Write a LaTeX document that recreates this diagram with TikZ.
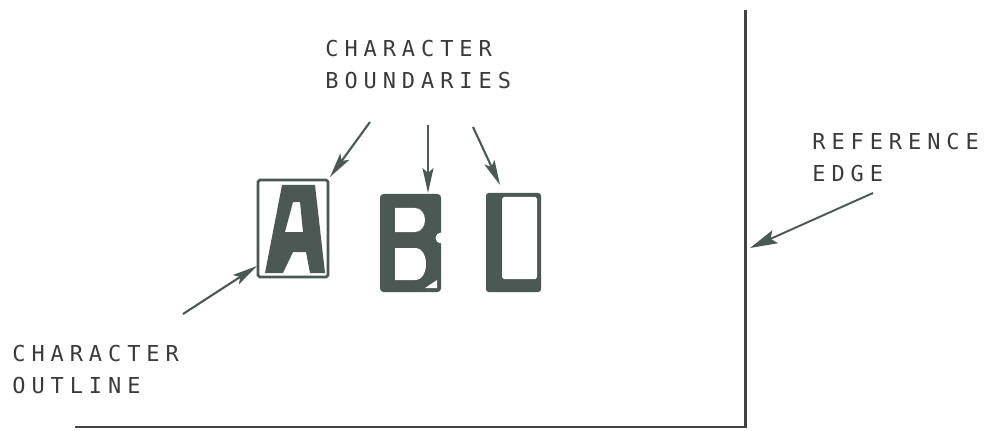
\documentclass[tikz,border=0pt]{standalone}
\usepackage{fontspec}
\usetikzlibrary{arrows.meta}
\newfontfamily\leroy{DejaVu Sans Mono}[LetterSpace=27]
\definecolor{cink}{HTML}{4B5853}
\definecolor{cline}{HTML}{3F4442}
\definecolor{ctext}{HTML}{383B3A}
\tikzset{
  lbl/.style={font=\leroy\fontsize{12.5}{18.2}\selectfont, text=ctext, align=left, inner sep=0pt, anchor=north west},
  pointer/.style={-{Stealth[length=5mm, width=2.2mm, inset=1mm]}, cink, line width=1.2pt},
  bigpointer/.style={-{Stealth[length=5.5mm, width=2.8mm, inset=1mm]}, cink, line width=1.1pt},
}

\begin{document}
\begin{tikzpicture}
\useasboundingbox (0,0) rectangle (19.7,8.6);
% reference edge
\draw[cline, line width=1.7pt] (1.5,0.06) -- (14.9,0.06) -- (14.9,8.4);
% letter A in its outline
\draw[cink, line width=1.6pt, rounded corners=1pt] (5.16,5.0) rectangle (6.56,3.06);
\fill[cink, even odd rule] (5.3,3.14) -- (5.64,4.9) -- (6.3,4.9) -- (6.5,3.14) -- (6.2,3.14) -- (6.12,3.56) -- (5.86,3.56) -- (5.66,3.14) -- cycle
  (5.7,3.96) -- (5.86,4.56) -- (6.0,4.56) -- (6.06,3.96) -- cycle;
% letter B
\fill[cink, rounded corners=2pt] (7.6,4.72) rectangle (8.82,2.76);
\fill[white] (7.9,3.96) -- (7.9,4.44) -- (8.3,4.44) to[out=0, in=90] (8.5,4.2) to[out=-90, in=0] (8.3,3.96) -- cycle;
\fill[white] (7.9,3.0) -- (7.9,3.64) -- (8.3,3.64) to[out=0, in=90] (8.52,3.32) to[out=-90, in=0] (8.3,3.0) -- cycle;
\fill[white] (8.82,3.84) circle (0.11);
\fill[white] (8.5,2.84) -- (8.74,2.84) -- (8.74,3.0) -- cycle;
% letter L
\fill[cink, rounded corners=1.5pt] (9.72,4.74) rectangle (10.82,2.76);
\fill[white, rounded corners=1pt] (10.04,4.66) rectangle (10.74,3.02);
% labels
\node[lbl] (bound) at (6.5,7.8) {CHARACTER\\BOUNDARIES};
\node[lbl] (outl) at (0.24,1.7) {CHARACTER\\OUTLINE};
\node[lbl] (refedge) at (16.24,5.94) {REFERENCE\\EDGE};
% arrow ends
\coordinate (bA) at (7.4,6.16);
\coordinate (bB) at (8.56,6.1);
\coordinate (bL) at (9.46,6.06);
\coordinate (tA) at (6.6,5.06);
\coordinate (tB) at (8.56,4.74);
\coordinate (tL) at (10.0,4.9);
\coordinate (oA) at (3.66,2.32);
\coordinate (tO) at (5.14,3.28);
\coordinate (rE) at (17.46,4.74);
\coordinate (tE) at (15.0,3.64);
\draw[pointer] (bA) -- (tA);
\draw[pointer] (bB) -- (tB);
\draw[pointer] (bL) -- (tL);
\draw[pointer] (oA) -- (tO);
\draw[bigpointer] (rE) -- (tE);
\end{tikzpicture}
\end{document}
